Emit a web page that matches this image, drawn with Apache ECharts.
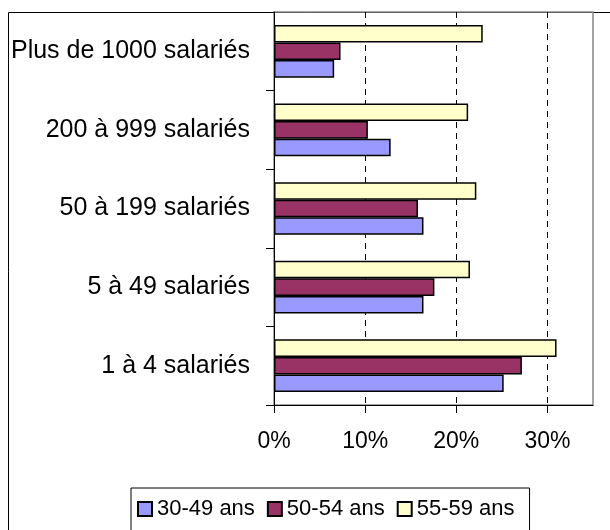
<!DOCTYPE html>
<html>
<head>
<meta charset="utf-8">
<script src="https://cdn.jsdelivr.net/npm/echarts@6/dist/echarts.min.js"></script>
<style>
  html, body { margin: 0; padding: 0; background: #fff; }
  #chart { width: 610px; height: 530px; }
</style>
</head>
<body>
<div id="chart"></div>
<script>
// catégories (de bas en haut)
var categories = ['1 à 4 salariés', '5 à 49 salariés', '50 à 199 salariés', '200 à 999 salariés', 'Plus de 1000 salariés'];
var seriesNames = ['30-49 ans', '50-54 ans', '55-59 ans'];
var colors = ['#9999ff', '#993366', '#ffffcc'];

// valeurs en %
var age3049 = [25.2, 16.4, 16.4, 12.8, 6.6];
var age5054 = [27.2, 17.6, 15.8, 10.3, 7.3];
var age5559 = [31.0, 21.5, 22.2, 21.3, 22.9];
var values = [age3049, age5054, age5559];

var myChart = echarts.init(document.getElementById('chart'));

// en horizontal la première série est en haut : on inverse l'ordre
var series = seriesNames.map(function (name, i) {
  return {
    name: name,
    type: 'bar',
    data: values[i],
    barGap: 0,
    barCategoryGap: '33%',
    itemStyle: { color: colors[i], borderColor: '#000', borderWidth: 1.5 }
  };
}).reverse();

var option = {
  animation: false,
  textStyle: { fontFamily: 'Liberation Sans, Arial, sans-serif' },
  graphic: [{
    type: 'rect',
    silent: true,
    z: -10,
    shape: { x: 8.5, y: 12.5, width: 700, height: 600 },
    style: { fill: 'none', stroke: '#000', lineWidth: 1 }
  }],
  grid: {
    left: 274, right: 17, top: 12, bottom: 125,
    show: true, borderColor: '#888', borderWidth: 1.5,
    containLabel: false
  },
  legend: {
    data: seriesNames,
    left: 131, top: 488,
    padding: [10, 15, 12, 6],
    itemWidth: 14, itemHeight: 14, itemGap: 12,
    icon: 'rect',
    borderColor: '#000', borderWidth: 1,
    textStyle: { fontSize: 22, color: '#000' }
  },
  xAxis: {
    type: 'value',
    min: 0, max: 35, interval: 10,
    axisLine: { show: true, lineStyle: { color: '#000', width: 1 } },
    axisTick: { show: true, length: 8, lineStyle: { color: '#000' } },
    axisLabel: {
      formatter: '{value}%', fontSize: 23, color: '#000', margin: 25,
      showMaxLabel: false
    },
    splitLine: {
      show: true, showMinLine: false, showMaxLine: false,
      lineStyle: { color: '#000', type: [6, 5], width: 1 }
    }
  },
  yAxis: {
    type: 'category',
    data: categories,
    axisLine: { show: true, lineStyle: { color: '#000', width: 1 } },
    axisTick: { show: true, length: 8, alignWithLabel: false, lineStyle: { color: '#000' } },
    axisLabel: { fontSize: 25, color: '#000', margin: 24 },
    splitLine: { show: false }
  },
  series: series
};

myChart.setOption(option);
</script>
</body>
</html>
